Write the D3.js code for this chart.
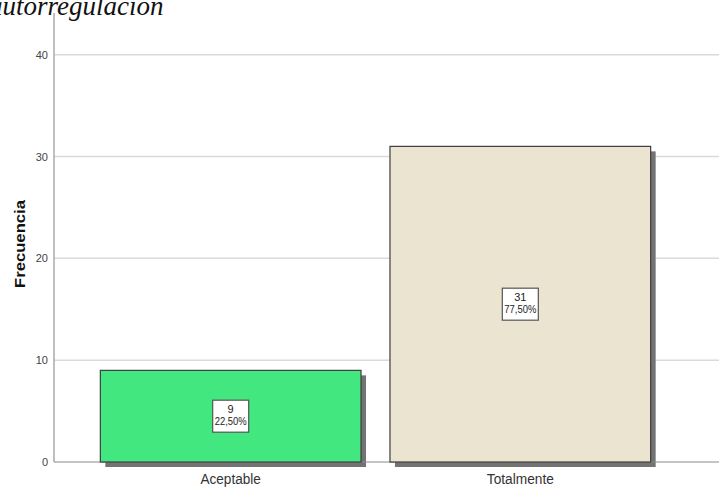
<!DOCTYPE html>
<html>
<head>
<meta charset="utf-8">
<script src="https://cdn.jsdelivr.net/npm/d3@7"></script>
<style>
	body { margin: 0; background: #fff; }
	svg { display: block; }
</style>
</head>
<body>
<div id="chart"></div>
<script>
// Data
//---------
var categories = ["Aceptable", "Totalmente"];
var frequencies = [9, 31];
var percents = ["22,50%", "77,50%"];
var barColors = ["#42E87F", "#EAE4D0"];
var yTicks = [0, 10, 20, 30, 40];

var width = 719, height = 491;
var svg = d3.select("#chart").append("svg")
	.attr("width", width)
	.attr("height", height);

//-- Scales
var y = d3.scaleLinear().domain([0, 44.1]).range([462, 13]);
var x = d3.scaleBand().domain(categories).range([54, 697])
	.paddingInner(0.1).paddingOuter(0.16);

var narrow = "Liberation Sans Narrow, Arial Narrow, Liberation Sans, sans-serif";

//-- Title (cropped at top)
svg.append("text")
	.attr("x", -11)
	.attr("y", 15)
	.attr("font-family", "Liberation Serif, Times New Roman, serif")
	.attr("font-style", "italic")
	.attr("font-size", 27)
	.attr("fill", "#111")
	.text("autorregulación");

// Grid
//---------
svg.append("g").selectAll("line")
	.data(yTicks.filter(function(d) { return d > 0; }))
	.join("line")
	.attr("x1", 54).attr("x2", width)
	.attr("y1", function(d) { return y(d); })
	.attr("y2", function(d) { return y(d); })
	.attr("stroke", "#dadada")
	.attr("stroke-width", 1.5);

//-- Y axis
var yAxis = svg.append("g")
	.attr("transform", "translate(54,0)")
	.call(d3.axisLeft(y).tickValues(yTicks).tickSize(0).tickPadding(6));
yAxis.select(".domain").remove();
yAxis.selectAll("text")
	.attr("font-family", narrow)
	.attr("font-size", 11)
	.attr("fill", "#444");

svg.append("line")
	.attr("x1", 54).attr("x2", 54)
	.attr("y1", 13).attr("y2", 462)
	.attr("stroke", "#aaa")
	.attr("stroke-width", 1.5);

//-- Y label
svg.append("text")
	.attr("transform", "translate(25,244) rotate(-90)")
	.attr("text-anchor", "middle")
	.attr("font-family", "Liberation Sans, Arial, sans-serif")
	.attr("font-weight", "bold")
	.attr("font-size", 15.5)
	.attr("textLength", 88)
	.attr("lengthAdjust", "spacingAndGlyphs")
	.attr("fill", "#111")
	.text("Frecuencia");

// Bars
//---------
//-- Shadow
svg.append("g").selectAll("rect")
	.data(categories)
	.join("rect")
	.attr("x", function(d) { return x(d) + 5; })
	.attr("y", function(d, i) { return y(frequencies[i]) + 5; })
	.attr("width", x.bandwidth())
	.attr("height", function(d, i) { return y(0) - y(frequencies[i]); })
	.attr("fill", "#737373");

//-- Baseline
svg.append("line")
	.attr("x1", 54).attr("x2", width)
	.attr("y1", y(0)).attr("y2", y(0))
	.attr("stroke", "#8a8a8a")
	.attr("stroke-width", 1);

svg.append("g").selectAll("rect")
	.data(categories)
	.join("rect")
	.attr("x", function(d) { return x(d); })
	.attr("y", function(d, i) { return y(frequencies[i]); })
	.attr("width", x.bandwidth())
	.attr("height", function(d, i) { return y(0) - y(frequencies[i]); })
	.attr("fill", function(d, i) { return barColors[i]; })
	.attr("stroke", "#3d3d3d")
	.attr("stroke-width", 1.2);

//-- Value labels
var labels = svg.append("g").selectAll("g")
	.data(categories)
	.join("g")
	.attr("transform", function(d, i) {
		var cx = x(d) + x.bandwidth() / 2;
		var cy = (y(frequencies[i]) + y(0)) / 2;
		return "translate(" + cx + "," + cy + ")";
	});

labels.append("rect")
	.attr("x", -18).attr("y", -16)
	.attr("width", 36).attr("height", 32)
	.attr("fill", "#fff")
	.attr("stroke", "#555")
	.attr("stroke-width", 1.2);

labels.append("text")
	.attr("text-anchor", "middle")
	.attr("font-family", narrow)
	.attr("font-size", 11)
	.attr("fill", "#222")
	.attr("y", -3)
	.text(function(d, i) { return frequencies[i]; });

labels.append("text")
	.attr("text-anchor", "middle")
	.attr("font-family", narrow)
	.attr("font-size", 11)
	.attr("textLength", 32)
	.attr("lengthAdjust", "spacingAndGlyphs")
	.attr("fill", "#222")
	.attr("y", 9)
	.text(function(d, i) { return percents[i]; });

//-- Category labels
svg.append("g").selectAll("text")
	.data(categories)
	.join("text")
	.attr("x", function(d) { return x(d) + x.bandwidth() / 2; })
	.attr("y", 484)
	.attr("text-anchor", "middle")
	.attr("font-family", narrow)
	.attr("font-size", 15.5)
	.attr("textLength", function(d) { return d.length * 6.7; })
	.attr("lengthAdjust", "spacingAndGlyphs")
	.attr("fill", "#333")
	.text(function(d) { return d; });
</script>
</body>
</html>
